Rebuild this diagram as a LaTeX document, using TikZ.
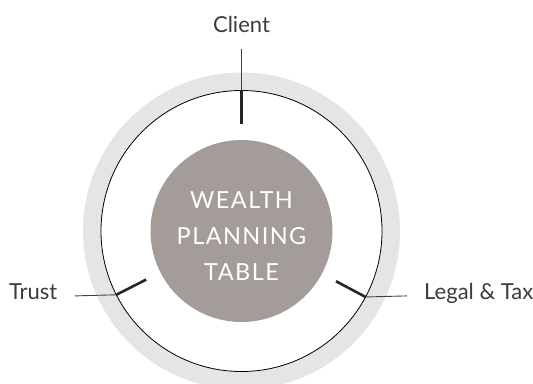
\documentclass[tikz,border=0pt]{standalone}
\usepackage{fontspec}
\setmainfont{Lato}
\newfontfamily\spacedfont[LetterSpace=6]{Lato}
\usetikzlibrary{positioning}
\definecolor{ringgray}{RGB}{230,229,227}
\definecolor{tablegray}{RGB}{163,156,152}
\definecolor{labelgray}{RGB}{60,60,60}
\tikzset{
    tablenode/.style = {circle, fill=tablegray, minimum size=182bp, inner sep=0pt, outer sep=0pt},
    rimnode/.style = {circle, draw=black, line width=0.8bp, minimum size=281bp, inner sep=0pt, outer sep=0pt},
    ticknode/.style = {circle, minimum size=214bp, inner sep=0pt, outer sep=0pt},
    labelnode/.style = {inner sep=0pt, font=\fontsize{22bp}{26bp}\selectfont, text=labelgray},
    titlenode/.style = {inner sep=0pt, align=center, text=white, font=\fontsize{23.5bp}{36bp}\spacedfont},
    edget/.style = {-, line width=2.6bp, black!85},
    edgel/.style = {-, line width=0.9bp, black!75}
}
\begin{document}
\begin{tikzpicture}[x=1bp,y=1bp]
\path[use as bounding box] (0,0) rectangle (533,383);
\draw[ringgray, line width=18bp] (241.5,152) circle (149.5bp);
\node[rimnode] at (241.5,152) (rim) {};
\node[ticknode] at (241.5,152) (tick) {};
\node[tablenode] at (241.5,152) (table) {};
\node[titlenode] at (241.5,147) (title) {WEALTH\\PLANNING\\TABLE};
%
\node[labelnode, anchor=base] at (241.5,351) (client) {Client};
\node[labelnode, anchor=base east] at (57.5,84) (trust) {Trust};
\node[labelnode, anchor=base west] at (424,84) (legal) {Legal \& Tax};
\coordinate (client-end) at (241.5,334);
\coordinate (trust-end) at (75,87.1);
\coordinate (legal-end) at (407,87.1);
%
\draw[edgel] (client-end) -- (rim.90);
\draw[edgel] (trust-end) -- (rim.207.5);
\draw[edgel] (legal-end) -- (rim.332.5);
\draw[edget] (rim.90) -- (tick.90);
\draw[edget] (rim.207.5) -- (tick.207.5);
\draw[edget] (rim.332.5) -- (tick.332.5);
\end{tikzpicture}
\end{document}
